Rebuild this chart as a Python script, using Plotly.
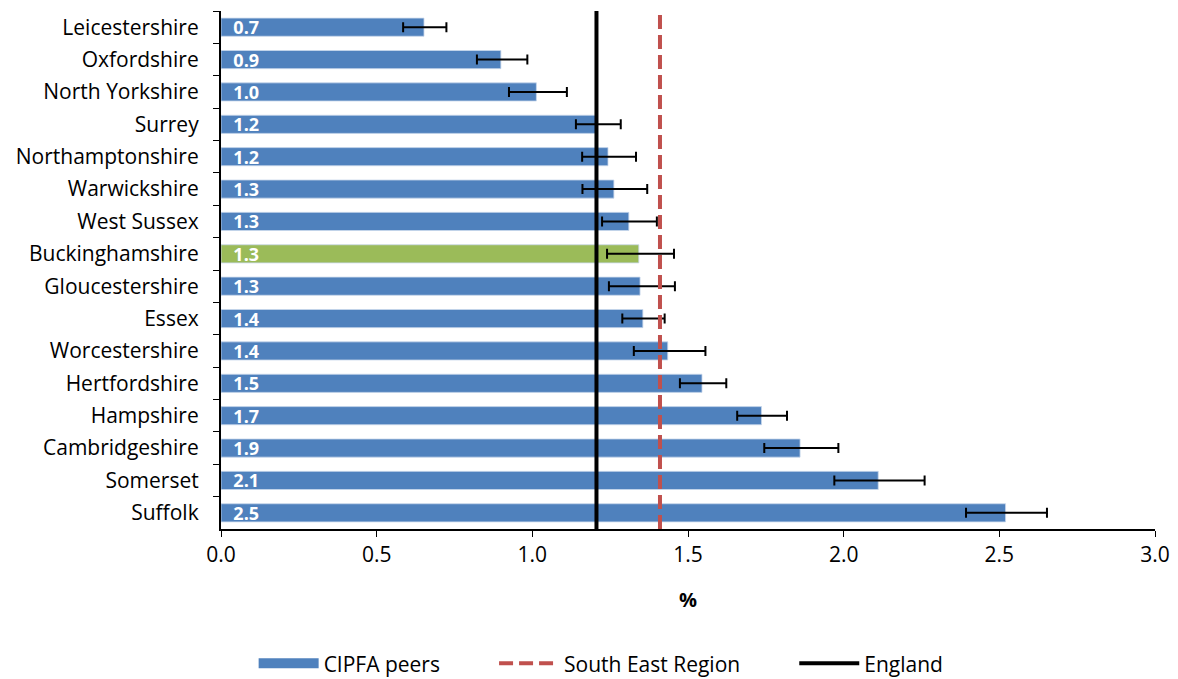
import plotly.graph_objects as go

categories = ["Leicestershire", "Oxfordshire", "North Yorkshire", "Surrey", "Northamptonshire",
              "Warwickshire", "West Sussex", "Buckinghamshire", "Gloucestershire", "Essex",
              "Worcestershire", "Hertfordshire", "Hampshire", "Cambridgeshire", "Somerset", "Suffolk"]
values = [0.652, 0.899, 1.013, 1.208, 1.243, 1.262, 1.310, 1.342, 1.346, 1.355,
          1.435, 1.545, 1.736, 1.860, 2.111, 2.520]
ci_low = [0.585, 0.822, 0.925, 1.140, 1.160, 1.161, 1.224, 1.240, 1.246, 1.289,
          1.326, 1.474, 1.658, 1.745, 1.970, 2.393]
ci_high = [0.724, 0.984, 1.111, 1.284, 1.333, 1.369, 1.400, 1.455, 1.458, 1.425,
           1.556, 1.623, 1.818, 1.983, 2.260, 2.653]
highlight = "Buckinghamshire"
england = 1.206
south_east = 1.410

BLUE = "#4F81BD"
GREEN = "#9BBB59"
RED = "#C0504D"
FONT = "Open Sans"
FS = 21
GAP = "\u00a0" * 9

colors = [GREEN if c == highlight else BLUE for c in categories]
labels = ["\u00a0\u00a0" + f"{v:.1f}" for v in values]

fig = go.Figure()
fig.add_trace(go.Bar(
    y=categories, x=values, orientation="h", name="CIPFA peers", showlegend=False,
    marker=dict(color=colors, line=dict(color="rgba(200,215,235,0.8)", width=1)),
    width=0.56,
    text=labels, textposition="inside", insidetextanchor="start", constraintext="none",
    textfont=dict(color="white", size=18, family=FONT, weight="bold"),
    error_x=dict(type="data", symmetric=False,
                 array=[h - v for h, v in zip(ci_high, values)],
                 arrayminus=[v - l for l, v in zip(ci_low, values)],
                 color="black", thickness=2, width=5),
))
# legend entry for bars (wide rectangle like the reference)
fig.add_trace(go.Scatter(
    x=[None], y=[None], mode="lines", name="CIPFA peers" + GAP,
    line=dict(color=BLUE, width=13),
))
fig.add_trace(go.Scatter(
    x=[south_east, south_east], y=[0, 1], yaxis="y2", mode="lines",
    name="South East Region" + GAP, line=dict(color=RED, width=4, dash="14px,6px"),
))
fig.add_trace(go.Scatter(
    x=[england, england], y=[0, 1], yaxis="y2", mode="lines",
    name="England", line=dict(color="black", width=4),
))

fig.update_layout(
    width=1178, height=679,
    margin=dict(l=213, r=31, t=3, b=156),
    plot_bgcolor="white", paper_bgcolor="white",
    font=dict(family=FONT, size=FS, color="black"),
    xaxis=dict(range=[0, 3], dtick=0.5, tickformat=".1f", showgrid=False, zeroline=False,
               showline=True, linecolor="black", linewidth=1.5,
               ticks="outside", ticklen=6, tickcolor="black",
               title=dict(text="<b>%</b>", font=dict(size=FS - 1, family=FONT), standoff=26),
               tickfont=dict(size=FS, family=FONT)),
    yaxis=dict(autorange="reversed", showgrid=False, showline=True, linecolor="black",
               linewidth=1.5, ticks="outside", ticklen=6, tickcolor="black",
               tickson="boundaries", tickfont=dict(size=FS, family=FONT),
               ticksuffix="\u00a0" * 3),
    yaxis2=dict(overlaying="y", range=[0, 1], visible=False, fixedrange=True),
    legend=dict(orientation="h", x=0.407, xanchor="center", y=-0.26, yanchor="middle",
                font=dict(size=FS, family=FONT), itemwidth=60, traceorder="normal"),
    showlegend=True,
)

fig.write_html("out.html")
